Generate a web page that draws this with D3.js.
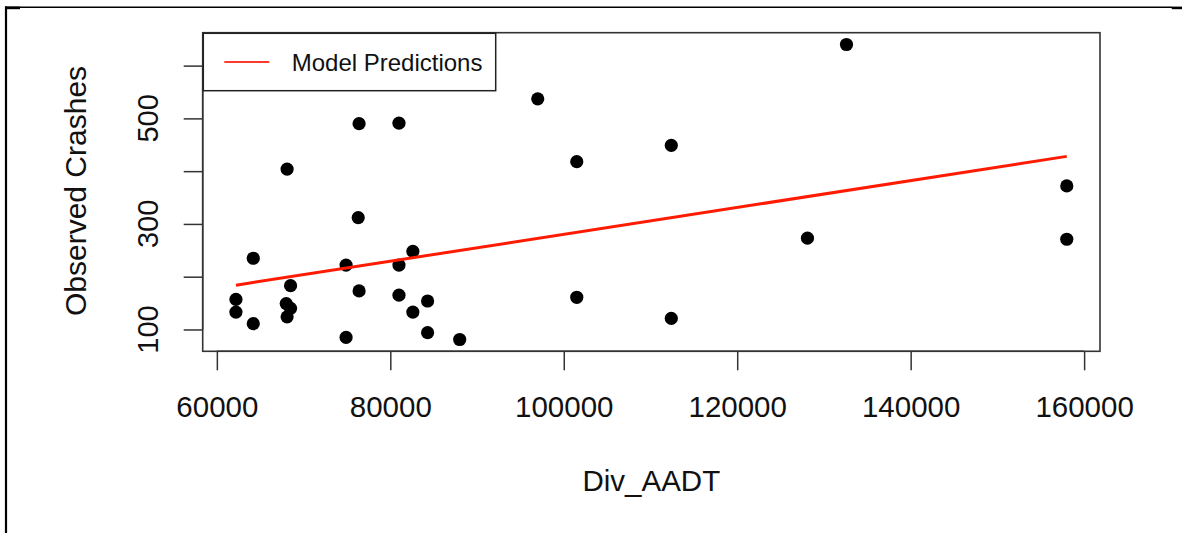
<!DOCTYPE html>
<html>
<head>
<meta charset="utf-8">
<title>Observed Crashes vs Div_AADT</title>
<script src="https://cdn.jsdelivr.net/npm/d3@7"></script>
<style>
  body { margin: 0; background: #fff; }
  svg { display: block; font-family: "Liberation Sans", Arial, sans-serif; }
</style>
</head>
<body>
<div id="container"></div>
<script>
  // observed points
  var aadt = [62200, 62200, 64200, 64200, 68100, 68500, 68000, 68500, 68100,
    74900, 74900, 76400, 76300, 76400, 81000, 81000, 81000, 82600, 82600,
    84300, 84300, 88000, 97000, 101500, 101500, 112400, 112400, 128100,
    132600, 158000, 158000];
  var crashes = [157, 133, 235, 111, 404, 183, 149, 140, 124,
    222, 85, 490, 312, 173, 491, 222, 165, 248, 133,
    154, 94, 81, 537, 418, 161, 449, 121, 273,
    640, 372, 271];

  // model predictions (straight line over the x range)
  var predX = [62200, 158000];
  var predY = [184, 428];

  var xTicks = [60000, 80000, 100000, 120000, 140000, 160000];
  var yTicks = [100, 200, 300, 400, 500, 600];
  var yLabels = [100, 300, 500];

  var width = 1182, height = 533;
  var plotL = 202.7, plotR = 1100, plotT = 32.7, plotB = 351.3;

  var svg = d3.select('#container')
    .append('svg')
    .attr('width', width)
    .attr('height', height);

  // page frame
  svg.append('line').attr('x1', 5).attr('x2', 1172).attr('y1', 7.3).attr('y2', 7.3)
    .attr('stroke', '#000').attr('stroke-width', 1.5);
  svg.append('line').attr('x1', 6).attr('x2', 6).attr('y1', 6.5).attr('y2', height)
    .attr('stroke', '#000').attr('stroke-width', 2.2);
  svg.append('rect').attr('x', 5).attr('y', 6.6).attr('width', 15).attr('height', 2.6).attr('fill', '#000');
  svg.append('rect').attr('x', 1171.7).attr('y', 6.6).attr('width', 11).attr('height', 2.6).attr('fill', '#000');

  // R style 4% padding on the data range
  var xMin = d3.min(aadt), xMax = d3.max(aadt);
  var yMin = d3.min(crashes), yMax = d3.max(crashes);
  var xPad = (xMax - xMin) * 0.04, yPad = (yMax - yMin) * 0.04;

  var x = d3.scaleLinear().domain([xMin - xPad, xMax + xPad]).range([plotL, plotR]);
  var y = d3.scaleLinear().domain([yMin - yPad, yMax + yPad]).range([plotB, plotT]);

  var axisColor = '#333';

  // x axis
  var xAxis = svg.append('g')
    .attr('transform', 'translate(0,' + plotB + ')')
    .call(d3.axisBottom(x).tickValues(xTicks).tickSize(19).tickSizeOuter(0).tickFormat(d3.format('d')));
  xAxis.select('.domain').remove();
  xAxis.selectAll('line').attr('stroke', axisColor).attr('stroke-width', 1.5);
  xAxis.selectAll('text')
    .attr('y', 66).attr('dy', 0)
    .attr('font-size', 29.5)
    .attr('fill', '#111')
    .attr('font-family', '"Liberation Sans", Arial, sans-serif');

  // y axis, labels rotated like base R graphics
  var yAxis = svg.append('g')
    .attr('transform', 'translate(' + plotL + ',0)')
    .call(d3.axisLeft(y).tickValues(yTicks).tickSize(19).tickSizeOuter(0).tickFormat(''));
  yAxis.select('.domain').remove();
  yAxis.selectAll('line').attr('stroke', axisColor).attr('stroke-width', 1.5);

  svg.selectAll('.ylab')
    .data(yLabels)
    .enter()
    .append('text')
    .attr('class', 'ylab')
    .attr('transform', function(d) { return 'translate(158.3,' + y(d) + ') rotate(-90)'; })
    .attr('text-anchor', 'middle')
    .attr('font-size', 29)
    .attr('fill', '#111')
    .text(function(d) { return d; });

  // axis lines drawn over the box between first and last tick
  svg.append('line')
    .attr('x1', x(xTicks[0])).attr('x2', x(xTicks[xTicks.length - 1]))
    .attr('y1', plotB).attr('y2', plotB)
    .attr('stroke', axisColor).attr('stroke-width', 1.5);
  svg.append('line')
    .attr('x1', plotL).attr('x2', plotL)
    .attr('y1', y(yTicks[0])).attr('y2', y(yTicks[yTicks.length - 1]))
    .attr('stroke', axisColor).attr('stroke-width', 1.5);

  // plot box
  svg.append('rect')
    .attr('x', plotL).attr('y', plotT)
    .attr('width', plotR - plotL).attr('height', plotB - plotT)
    .attr('fill', 'none')
    .attr('stroke', axisColor)
    .attr('stroke-width', 1.6);

  // titles
  svg.append('text')
    .attr('x', (plotL + plotR) / 2).attr('y', 491)
    .attr('text-anchor', 'middle')
    .attr('font-size', 29.5)
    .attr('fill', '#111')
    .text('Div_AADT');

  svg.append('text')
    .attr('transform', 'translate(86,' + ((plotT + plotB) / 2 - 1) + ') rotate(-90)')
    .attr('text-anchor', 'middle')
    .attr('font-size', 30)
    .attr('fill', '#111')
    .text('Observed Crashes');

  // points
  var pts = d3.range(aadt.length).map(function(i) { return [aadt[i], crashes[i]]; });
  svg.selectAll('circle.obs')
    .data(pts)
    .enter()
    .append('circle')
    .attr('class', 'obs')
    .attr('cx', function(d) { return x(d[0]); })
    .attr('cy', function(d) { return y(d[1]); })
    .attr('r', 6.6)
    .attr('fill', '#000');

  // model line
  var line = d3.line()
    .x(function(d) { return x(d[0]); })
    .y(function(d) { return y(d[1]); });
  svg.append('path')
    .datum(predX.map(function(v, i) { return [v, predY[i]]; }))
    .attr('d', line)
    .attr('fill', 'none')
    .attr('stroke', '#ff1a00')
    .attr('stroke-width', 3);

  // legend
  var legend = svg.append('g');
  legend.append('rect')
    .attr('x', 203.3).attr('y', 33.3)
    .attr('width', 292.4).attr('height', 57.4)
    .attr('fill', '#fff')
    .attr('stroke', '#222')
    .attr('stroke-width', 1.5);
  legend.append('line')
    .attr('x1', 224.3).attr('x2', 269.3)
    .attr('y1', 62).attr('y2', 62)
    .attr('stroke', '#ff3b2f')
    .attr('stroke-width', 2);
  legend.append('text')
    .attr('x', 291.7).attr('y', 62)
    .attr('dy', '0.36em')
    .attr('font-size', 24)
    .attr('fill', '#111')
    .text('Model Predictions');
</script>
</body>
</html>
